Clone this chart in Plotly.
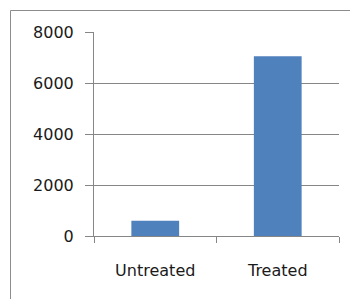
import plotly.graph_objects as go

categories = ["Untreated", "Treated"]
values = [600, 7050]
y_ticks = [0, 2000, 4000, 6000, 8000]

OFF = 8  # page body margin
W, H = 358 - OFF, 299 - OFF
L, T = 94 - OFF, 32 - OFF
R = W - (339 - OFF)
B = H - (236 - OFF)
pw, ph = W - L - R, H - T - B

fig = go.Figure(go.Bar(x=categories, y=values, marker=dict(color="#4F81BD", line=dict(width=0)),
                       width=0.39))

fig.update_layout(
    width=W, height=H,
    margin=dict(l=L, r=R, t=T, b=B, pad=0),
    paper_bgcolor="white", plot_bgcolor="white",
    showlegend=False,
    font=dict(family="DejaVu Sans", size=16, color="#1a1a1a"),
    shapes=[dict(type="rect", xref="paper", yref="paper",
                 x0=(10.5 - 94) / pw, x1=(W + 40 - L) / pw,
                 y0=-(H + 40 - T - ph) / ph, y1=(236 - 10.5) / ph,
                 line=dict(color="#8c8c8c", width=1), fillcolor="rgba(0,0,0,0)", layer="below")],
)
fig.update_xaxes(showline=True, linecolor="#868686", linewidth=1,
                 ticks="outside", ticklen=6, tickcolor="#868686", tickson="boundaries",
                 showgrid=False, ticklabelstandoff=20, zeroline=False)
fig.update_yaxes(range=[0, 8000], tickvals=y_ticks, showline=True, linecolor="#868686", linewidth=1,
                 ticks="outside", ticklen=8, tickcolor="#868686",
                 showgrid=True, gridcolor="#868686", gridwidth=1, zeroline=False,
                 ticklabelstandoff=8)

fig.write_html("out.html")
